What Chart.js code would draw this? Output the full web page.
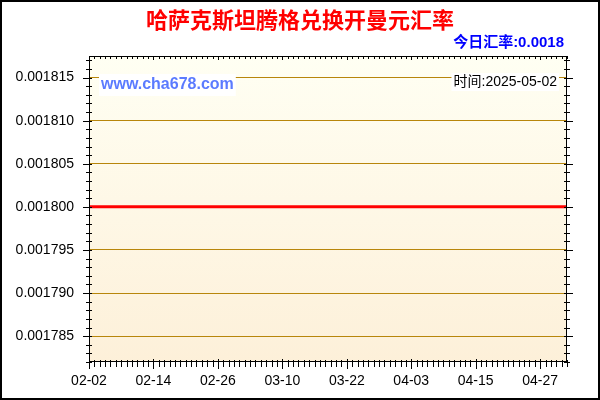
<!DOCTYPE html>
<html>
<head>
<meta charset="utf-8">
<script src="https://cdn.jsdelivr.net/npm/chart.js@4"></script>
<style>
    html, body { margin: 0; padding: 0; background: #fff; }
    #wrap { width: 600px; height: 400px; }
</style>
</head>
<body>
<div id="wrap"><canvas id="rateChart" width="600" height="400"></canvas></div>
<script>
const chartTitle = '哈萨克斯坦腾格兑换开曼元汇率';
const todayRate = '今日汇率:0.0018';
const updateTime = '时间:2025-05-02';
const siteMark = 'www.cha678.com';

// one point per day, 02-02 .. 05-02
const dates = [
    '02-02', '02-03', '02-04', '02-05', '02-06', '02-07', '02-08', '02-09', '02-10', '02-11',
    '02-12', '02-13', '02-14', '02-15', '02-16', '02-17', '02-18', '02-19', '02-20', '02-21',
    '02-22', '02-23', '02-24', '02-25', '02-26', '02-27', '02-28', '03-01', '03-02', '03-03',
    '03-04', '03-05', '03-06', '03-07', '03-08', '03-09', '03-10', '03-11', '03-12', '03-13',
    '03-14', '03-15', '03-16', '03-17', '03-18', '03-19', '03-20', '03-21', '03-22', '03-23',
    '03-24', '03-25', '03-26', '03-27', '03-28', '03-29', '03-30', '03-31', '04-01', '04-02',
    '04-03', '04-04', '04-05', '04-06', '04-07', '04-08', '04-09', '04-10', '04-11', '04-12',
    '04-13', '04-14', '04-15', '04-16', '04-17', '04-18', '04-19', '04-20', '04-21', '04-22',
    '04-23', '04-24', '04-25', '04-26', '04-27', '04-28', '04-29', '04-30', '05-01', '05-02'
];

const rates = [
    0.0018, 0.0018, 0.0018, 0.0018, 0.0018, 0.0018, 0.0018, 0.0018, 0.0018, 0.0018,
    0.0018, 0.0018, 0.0018, 0.0018, 0.0018, 0.0018, 0.0018, 0.0018, 0.0018, 0.0018,
    0.0018, 0.0018, 0.0018, 0.0018, 0.0018, 0.0018, 0.0018, 0.0018, 0.0018, 0.0018,
    0.0018, 0.0018, 0.0018, 0.0018, 0.0018, 0.0018, 0.0018, 0.0018, 0.0018, 0.0018,
    0.0018, 0.0018, 0.0018, 0.0018, 0.0018, 0.0018, 0.0018, 0.0018, 0.0018, 0.0018,
    0.0018, 0.0018, 0.0018, 0.0018, 0.0018, 0.0018, 0.0018, 0.0018, 0.0018, 0.0018,
    0.0018, 0.0018, 0.0018, 0.0018, 0.0018, 0.0018, 0.0018, 0.0018, 0.0018, 0.0018,
    0.0018, 0.0018, 0.0018, 0.0018, 0.0018, 0.0018, 0.0018, 0.0018, 0.0018, 0.0018,
    0.0018, 0.0018, 0.0018, 0.0018, 0.0018, 0.0018, 0.0018, 0.0018, 0.0018, 0.0018
];

const xTickLabels = ['02-02', '02-14', '02-26', '03-10', '03-22', '04-03', '04-15', '04-27'];
const yMin = 0.001782;
const yMax = 0.0018175;
const yStep = 0.000005;
const yMinorStep = 0.000001;

const latin = '"Liberation Sans", Arial, "Noto Sans CJK SC"';

// page frame, plot background, titles
const decorPlugin = {
    id: 'decor',
    beforeDraw(chart) {
        const { ctx, chartArea: a, width, height } = chart;
        ctx.save();
        ctx.fillStyle = '#ffffff';
        ctx.fillRect(0, 0, width, height);
        const g = ctx.createLinearGradient(0, a.top, 0, a.bottom);
        g.addColorStop(0, '#fffff3');
        g.addColorStop(1, '#fdf0d9');
        ctx.fillStyle = g;
        ctx.fillRect(a.left, a.top, a.right - a.left, a.bottom - a.top);
        ctx.strokeStyle = '#000';
        ctx.lineWidth = 2;
        ctx.strokeRect(1, 1, width - 2, height - 2);

        ctx.textBaseline = 'middle';
        ctx.textAlign = 'center';
        ctx.fillStyle = '#ff0000';
        ctx.font = 'bold 22px "Noto Sans CJK SC"';
        ctx.fillText(chartTitle, width / 2, 20);

        ctx.textAlign = 'right';
        ctx.fillStyle = '#0000ff';
        ctx.font = 'bold 15px ' + latin;
        ctx.fillText(todayRate, 564, 43);
        ctx.restore();
    },
    afterDraw(chart) {
        const { ctx, chartArea: a, scales } = chart;
        const x = scales.x, y = scales.y;
        ctx.save();
        ctx.strokeStyle = '#000';
        ctx.lineWidth = 1;
        ctx.beginPath();
        // daily ticks on bottom and top
        for (let i = 0; i < dates.length; i++) {
            const px = Math.round(x.getPixelForTick(i)) + 0.5;
            const major = xTickLabels.includes(dates[i]);
            ctx.moveTo(px, a.bottom - (major ? 3 : 2));
            ctx.lineTo(px, a.bottom + (major ? 7 : 5));
            ctx.moveTo(px, a.top);
            ctx.lineTo(px, a.top + (major ? 4 : 3));
        }
        // minor ticks on left and right
        for (let k = Math.ceil(yMin / yMinorStep); k * yMinorStep <= yMax + 1e-12; k++) {
            const py = Math.round(y.getPixelForValue(k * yMinorStep)) + 0.5;
            const major = k % 5 === 0;
            ctx.moveTo(a.left - (major ? 6 : 3), py);
            ctx.lineTo(a.left + 3, py);
            ctx.moveTo(a.right - 3, py);
            ctx.lineTo(a.right + (major ? 6 : 3), py);
        }
        ctx.moveTo(a.left + 0.5, a.top);
        ctx.lineTo(a.left + 0.5, a.bottom + 5);
        ctx.stroke();
        ctx.strokeRect(a.left + 0.5, a.top + 0.5, a.right - a.left - 1, a.bottom - a.top - 1);

        // watermark and time stamp on white boxes
        ctx.textBaseline = 'middle';
        ctx.font = 'bold 16px ' + latin;
        let w = ctx.measureText(siteMark).width;
        ctx.fillStyle = '#ffffff';
        ctx.fillRect(99, 74, w + 4, 22);
        ctx.fillStyle = '#5b7bff';
        ctx.textAlign = 'left';
        ctx.fillText(siteMark, 101, 85);

        ctx.font = '14px ' + latin;
        w = ctx.measureText(updateTime).width;
        ctx.fillStyle = '#ffffff';
        ctx.fillRect(557 - w - 2, 73, w + 4, 18);
        ctx.fillStyle = '#000';
        ctx.textAlign = 'right';
        ctx.fillText(updateTime, 557, 82);
        ctx.restore();
    }
};

new Chart(document.getElementById('rateChart').getContext('2d'), {
    type: 'line',
    data: {
        labels: dates,
        datasets: [{
            data: rates,
            borderColor: '#ff0000',
            borderWidth: 3,
            pointRadius: 0,
            fill: false,
            tension: 0
        }]
    },
    options: {
        responsive: false,
        animation: false,
        devicePixelRatio: 1,
        layout: { padding: { top: 56, right: 33, left: 0, bottom: 0 } },
        plugins: {
            legend: { display: false },
            tooltip: { enabled: false }
        },
        scales: {
            x: {
                type: 'category',
                offset: false,
                afterFit: s => { s.height = 38; },
                grid: { display: false, drawTicks: false },
                border: { display: false },
                ticks: {
                    autoSkip: false,
                    maxRotation: 0,
                    padding: 11,
                    color: '#000',
                    font: { family: latin, size: 14 },
                    callback: (v, i) => xTickLabels.includes(dates[i]) ? dates[i] : ''
                }
            },
            y: {
                min: yMin,
                max: yMax,
                afterFit: s => { s.width = 89; },
                grid: { color: '#b8860b', lineWidth: 1, drawTicks: false },
                border: { display: false },
                ticks: {
                    stepSize: yStep,
                    includeBounds: false,
                    padding: 15,
                    color: '#000',
                    font: { family: latin, size: 14 },
                    callback: v => v.toFixed(6)
                }
            }
        }
    },
    plugins: [decorPlugin]
});
</script>
</body>
</html>
